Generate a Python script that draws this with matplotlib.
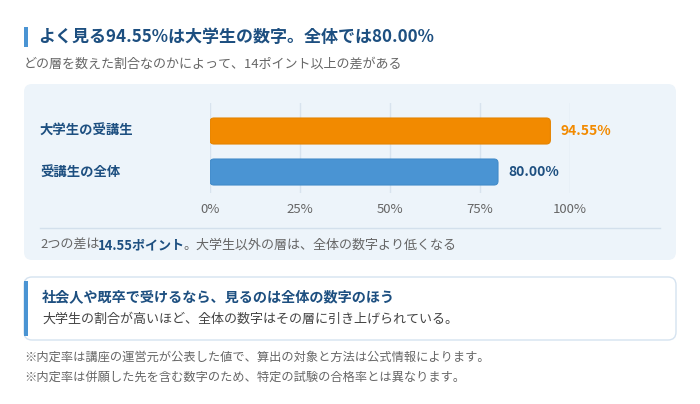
import matplotlib.pyplot as plt
from matplotlib.patches import FancyBboxPatch, Rectangle

plt.rcParams['font.family'] = ['Noto Sans CJK JP', 'DejaVu Sans']

# データ
categories = ["大学生の受講生", "受講生の全体"]
values = [94.55, 80.00]
value_labels = ["94.55%", "80.00%"]
ticks = [0, 25, 50, 75, 100]
tick_labels = ["0%", "25%", "50%", "75%", "100%"]

title = "よく見る94.55%は大学生の数字。全体では80.00%"
subtitle = "どの層を数えた割合なのかによって、14ポイント以上の差がある"
note_parts = [("2つの差は", "normal"), ("14.55ポイント", "bold"),
              ("。大学生以外の層は、全体の数字より低くなる", "normal")]
callout_title = "社会人や既卒で受けるなら、見るのは全体の数字のほう"
callout_body = "大学生の割合が高いほど、全体の数字はその層に引き上げられている。"
footnotes = ["※内定率は講座の運営元が公表した値で、算出の対象と方法は公式情報によります。",
             "※内定率は併願した先を含む数字のため、特定の試験の合格率とは異なります。"]

# 色
navy = "#1d4f80"
grey = "#666666"
body = "#444444"
bar_colors = ["#f28a00", "#4a94d3"]
edge_colors = ["#e58300", "#428bc9"]
label_colors = ["#f28a00", navy]

W, H = 700, 404
fig = plt.figure(figsize=(7, 4.04), dpi=100)
fig.patch.set_facecolor("white")

# 背景用の軸（ピクセル座標）
bg = fig.add_axes([0, 0, 1, 1], zorder=0)
bg.set_xlim(0, W)
bg.set_ylim(H, 0)
bg.axis("off")

# タイトル
bg.add_patch(Rectangle((24, 27), 3.5, 20, color="#4a94d3", lw=0))
bg.text(38, 37, title, fontsize=12.25, fontweight="bold", color=navy, va="center")
bg.text(24, 64, subtitle, fontsize=9.4, color=grey, va="center")

# グラフのパネル
bg.add_patch(FancyBboxPatch((24, 84), 652, 176, boxstyle="round,pad=0,rounding_size=8",
                            fc="#edf4fa", ec="none"))
bg.plot([40, 660], [228, 228], color="#d3e0ec", lw=1)

# 差の説明（太字を混ぜる）
renderer = fig.canvas.get_renderer()
x = 40
for part, weight in note_parts:
    t = bg.text(x, 249, part, fontsize=9.4, fontweight=weight,
                color=navy if weight == "bold" else grey, va="baseline")
    bb = t.get_window_extent(renderer=renderer)
    x += bb.width - 1.5

# コールアウト
bg.add_patch(FancyBboxPatch((24, 277), 652, 63, boxstyle="round,pad=0,rounding_size=8",
                            fc="white", ec="#d5e3f0", lw=1))
bg.add_patch(Rectangle((24, 281), 3.5, 55, color="#4a94d3", lw=0))
bg.text(42, 297, callout_title, fontsize=10.2, fontweight="bold", color=navy, va="center")
bg.text(42, 319, callout_body, fontsize=9.4, color=body, va="center")

# 注記
for i, fn in enumerate(footnotes):
    bg.text(24, 357 + i * 20, fn, fontsize=8.8, color=grey, va="center")

# 棒グラフ
ax = fig.add_axes([210 / W, 1 - 193 / H, 360 / W, 90 / H], zorder=1)
ax.patch.set_alpha(0)
ypos = list(range(len(categories)))
bars = ax.barh(ypos, values, height=0.634, color=bar_colors)
ax.set_xlim(0, 100)
ax.set_ylim(1.512, -0.683)

# 角丸の棒に置き換え
fig.canvas.draw()
px_x = ax.transData.transform((1, 0))[0] - ax.transData.transform((0, 0))[0]
px_y = abs(ax.transData.transform((0, 1))[1] - ax.transData.transform((0, 0))[1])
aspect = px_x / px_y
for bar, fc, ec in zip(bars, bar_colors, edge_colors):
    bar.set_visible(False)
    r = FancyBboxPatch((bar.get_x(), bar.get_y()), bar.get_width(), bar.get_height(),
                       boxstyle="round,pad=0,rounding_size=%f" % (4 / px_x),
                       mutation_aspect=aspect, fc=fc, ec=ec, lw=0.8, zorder=3)
    ax.add_patch(r)

for y, v, lab, c in zip(ypos, values, value_labels, label_colors):
    ax.text(v + 2.8, y, lab, fontsize=10, fontweight="bold", color=c, va="center")

ax.set_xticks(ticks)
ax.set_xticklabels(tick_labels, fontsize=9.5, color=grey)
ax.tick_params(axis="x", length=0, pad=7)
ax.set_yticks(ypos)
ax.set_yticklabels([])
ax.tick_params(axis="y", length=0)
ax.grid(axis="x", color="#d8e3ee", lw=1)
ax.set_axisbelow(True)
for s in ax.spines.values():
    s.set_visible(False)

for y, cat in zip(ypos, categories):
    bg.text(40, 131 + y * 41, cat, fontsize=9.6, fontweight="bold", color=navy, va="center")

fig.savefig("out.png", dpi=100)
